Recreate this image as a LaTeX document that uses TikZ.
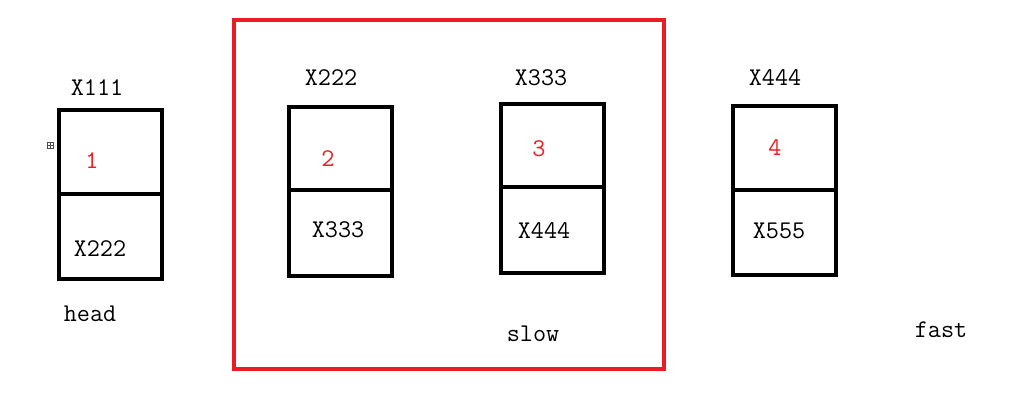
\documentclass[tikz,border=0pt]{standalone}
\usepackage{xcolor}
\usetikzlibrary{positioning}
\definecolor{winred}{RGB}{237,28,36}
\begin{document}
\begin{tikzpicture}[x=0.02cm,y=-0.02cm]
\tikzset{cell/.style={draw,line width=2pt,minimum width=2.06cm,inner sep=0pt}}
\tikzset{addr/.style={font=\ttfamily\fontsize{14.5}{16}\selectfont}}
\tikzset{val/.style={text=winred,font=\ttfamily\fontsize{14.5}{16}\selectfont}}

\useasboundingbox (0,0) rectangle (1028,408);

% the window
\node[draw=winred,line width=2pt,minimum width=8.6cm,minimum height=6.98cm,inner sep=0pt] (win) at (449,194.5) {};

% first node
\node[cell,minimum height=1.68cm] (d1) at (110.5,152) {};
\node[cell,minimum height=1.70cm] (n1) at (110.5,236.5) {};
\node[addr] (a1) at (97,88) {X111};
\node[val] (v1) at (92,161) {1};
\node[addr] (p1) at (100,249) {X222};
\node[addr] (head) at (90,314) {head};
\draw[black!70,line width=0.4pt] (47.5,142.5) rectangle (53.5,148.5) (47.5,145.5) -- (53.5,145.5) (50.5,142.5) -- (50.5,148.5);

% second node
\node[cell,minimum height=1.66cm] (d2) at (340.5,148.5) {};
\node[cell,minimum height=1.72cm] (n2) at (340.5,233) {};
\node[addr] (a2) at (331,78) {X222};
\node[val] (v2) at (328,159) {2};
\node[addr] (p2) at (338,230) {X333};

% third node
\node[cell,minimum height=1.66cm] (d3) at (552.5,145.5) {};
\node[cell,minimum height=1.72cm] (n3) at (552.5,230) {};
\node[addr] (a3) at (541,78) {X333};
\node[val] (v3) at (539,149) {3};
\node[addr] (p3) at (544,231) {X444};
\node[addr] (slow) at (533,334) {slow};

% fourth node
\node[cell,minimum height=1.68cm] (d4) at (784.5,148) {};
\node[cell,minimum height=1.70cm] (n4) at (784.5,232.5) {};
\node[addr] (a4) at (775,78) {X444};
\node[val] (v4) at (775,148) {4};
\node[addr] (p4) at (779,231) {X555};
\node[addr] (fast) at (941,330) {fast};

\end{tikzpicture}
\end{document}
